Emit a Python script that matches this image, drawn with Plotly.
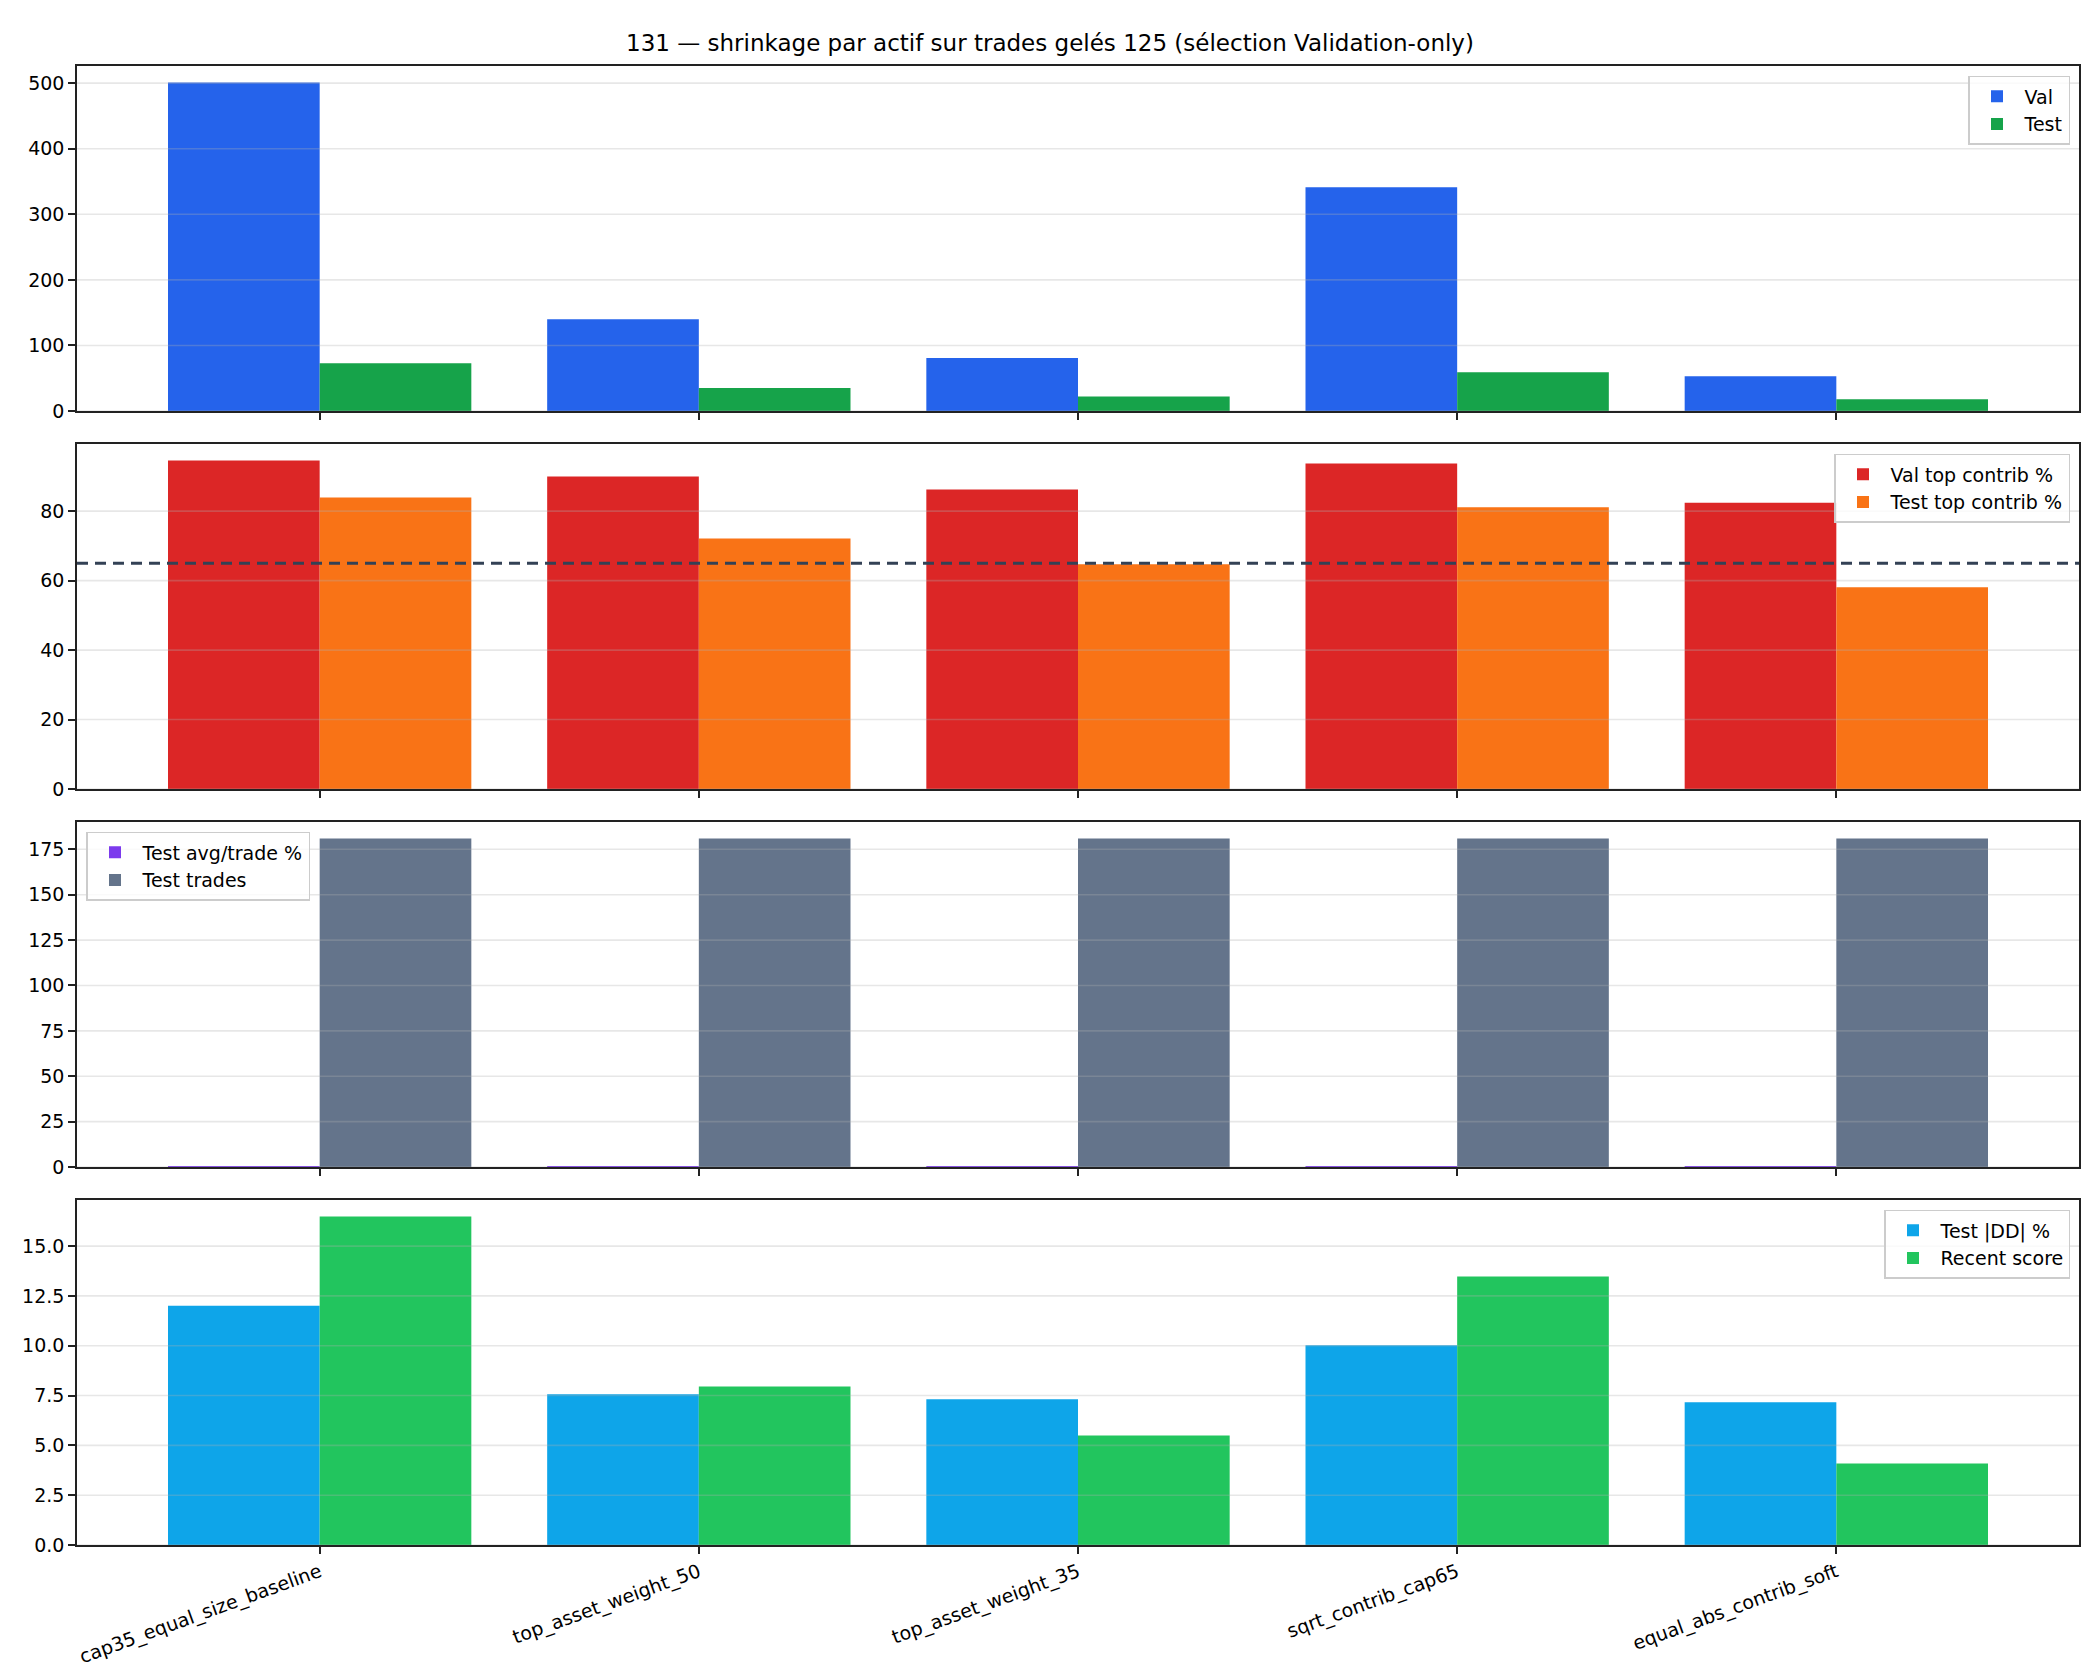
import plotly.graph_objects as go
from plotly.subplots import make_subplots

strategies = ["cap35_equal_size_baseline", "top_asset_weight_50", "top_asset_weight_35",
              "sqrt_contrib_cap65", "equal_abs_contrib_soft"]

# panel 1 : score
val_score = [501, 140, 81, 341, 53]
test_score = [73, 35, 22, 59, 18]

# panel 2 : concentration
val_top_contrib = [94.6, 90.0, 86.2, 93.7, 82.4]
test_top_contrib = [83.9, 72.1, 64.7, 81.1, 58.1]
contrib_cap = 65

# panel 3 : trades
test_avg_trade = [0.3, 0.25, 0.2, 0.3, 0.2]
test_trades = [181, 181, 181, 181, 181]

# panel 4 : drawdown / recent
test_dd = [12.0, 7.56, 7.31, 10.02, 7.16]
recent_score = [16.49, 7.96, 5.50, 13.48, 4.09]

yticks = {
    1: [0, 100, 200, 300, 400, 500],
    2: [0, 20, 40, 60, 80],
    3: [0, 25, 50, 75, 100, 125, 150, 175],
    4: [0, 2.5, 5, 7.5, 10, 12.5, 15],
}

FONT = "DejaVu Sans"
# page body has an 8px margin, so the figure is a bit smaller than the window
W, H = 2092, 1672
ML, MR, MT, MB = 69, 21, 58, 133
GRID = "rgba(176,176,176,0.3)"
TICK = 19

fig = make_subplots(rows=4, cols=1, shared_xaxes=True, vertical_spacing=33 / (H - MT - MB))

panels = [
    (1, [("Val", val_score, "#2563eb"), ("Test", test_score, "#16a34a")]),
    (2, [("Val top contrib %", val_top_contrib, "#dc2626"), ("Test top contrib %", test_top_contrib, "#f97316")]),
    (3, [("Test avg/trade %", test_avg_trade, "#7c3aed"), ("Test trades", test_trades, "#64748b")]),
    (4, [("Test |DD| %", test_dd, "#0ea5e9"), ("Recent score", recent_score, "#22c55e")]),
]

for row, series in panels:
    leg = "legend" if row == 1 else f"legend{row}"
    for name, vals, color in series:
        fig.add_trace(go.Bar(x=strategies, y=vals, name=name, marker_color=color,
                             marker_line_width=0, legend=leg), row=row, col=1)
    top = max(max(v) for _, v, _ in series) * 1.05
    fig.update_yaxes(range=[0, top], tickvals=yticks[row], row=row, col=1)
    for t in yticks[row]:
        fig.add_hline(y=t, row=row, col=1, layer="above", line=dict(color=GRID, width=1.6))

fig.update_yaxes(tickformat=".1f", row=4, col=1)

fig.add_hline(y=contrib_cap, row=2, col=1, layer="above",
              line=dict(color="#334155", width=2.8, dash="11px,7px"))

fig.update_xaxes(range=[-0.64, 4.64], showline=True, mirror=True, linecolor="#222", linewidth=1.6,
                 ticks="outside", ticklen=7, tickwidth=1.6, tickcolor="#222", showgrid=False,
                 tickangle=-20, tickfont=dict(size=TICK, color="black"))
fig.update_yaxes(showline=True, mirror=True, linecolor="#222", linewidth=1.6,
                 ticks="outside", ticklen=7, tickwidth=1.6, tickcolor="#222", showgrid=False,
                 zeroline=False, tickfont=dict(size=TICK, color="black"))

ph = H - MT - MB
pw = W - ML - MR
legends = {}
for row in range(1, 5):
    dom = fig.layout["yaxis" if row == 1 else f"yaxis{row}"].domain
    ytop = dom[1] - 10 / ph
    if row == 3:
        pos = dict(x=9 / pw, xanchor="left")
    else:
        pos = dict(x=1 - 9 / pw, xanchor="right")
    legends["legend" if row == 1 else f"legend{row}"] = dict(
        y=ytop, yanchor="top", bgcolor="rgba(255,255,255,0.8)", bordercolor="#cccccc",
        borderwidth=1.5, itemwidth=45, font=dict(family=FONT, size=19, color="black"), **pos)

fig.update_layout(
    width=W, height=H,
    margin=dict(l=ML, r=MR, t=MT, b=MB),
    paper_bgcolor="white", plot_bgcolor="white",
    font=dict(family=FONT, size=17, color="black"),
    barmode="group", bargap=0.2, bargroupgap=0,
    title=dict(text="131 — shrinkage par actif sur trades gelés 125 (sélection Validation-only)",
               x=(1050 - 8) / W, xanchor="center", xref="container", y=1 - 35 / H, yanchor="middle",
               yref="container", font=dict(family=FONT, size=23, color="black")),
    **legends,
)

fig.write_html("out.html")
